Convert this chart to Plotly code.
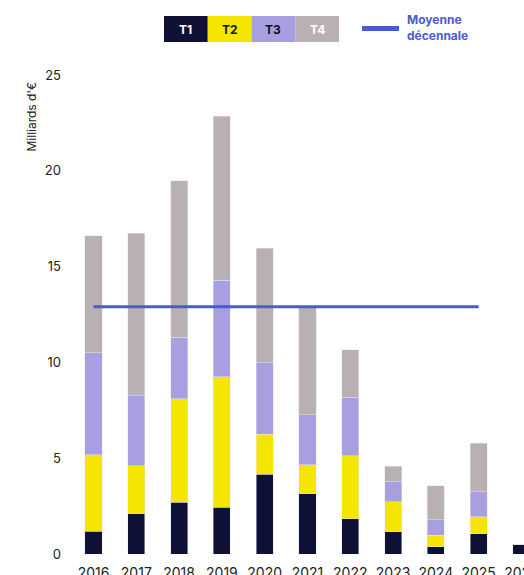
import plotly.graph_objects as go

# Quarterly amounts (billions of euros), stacked per year
years = [2016, 2017, 2018, 2019, 2020, 2021, 2022, 2023, 2024, 2025, 2026]
t1 = [1.2, 2.1, 2.7, 2.45, 4.17, 3.15, 1.85, 1.15, 0.37, 1.05, 0.52]
t2 = [3.97, 2.5, 5.4, 6.79, 2.09, 1.5, 3.28, 1.58, 0.61, 0.9, 0]
t3 = [5.33, 3.65, 3.2, 5.06, 3.71, 2.62, 3.05, 1.05, 0.81, 1.29, 0]
t4 = [6.1, 8.5, 8.17, 8.56, 6.0, 5.58, 2.47, 0.8, 1.78, 2.54, 0]

quarters = ["T1", "T2", "T3", "T4"]
colors = ["#0e1036", "#f5e600", "#a79fe0", "#b9b0b4"]
label_colors = ["white", "#111111", "#111111", "white"]
mean_color = "#4a5bd4"

y_ticks = [0, 5, 10, 15, 20, 25]

# Ten-year average of annual totals (2016-2025)
totals = [a + b + c + d for a, b, c, d in zip(t1, t2, t3, t4)]
decade = [tot for yr, tot in zip(years, totals) if 2016 <= yr <= 2025]
decade_mean = sum(decade) / len(decade)

W, H = 524, 575
L, R, T, B = 70, 0, 75, 21
PW, PH = W - L - R, H - T - B


def px(x):
    return (x - L) / PW


def py(y):
    return (H - B - y) / PH


fig = go.Figure()
for name, vals, col in zip(quarters, [t1, t2, t3, t4], colors):
    fig.add_trace(go.Bar(
        x=years, y=vals, name=name, marker_color=col,
        marker_line=dict(width=0.6, color="rgba(230,230,235,0.8)"),
        width=0.4, showlegend=False,
    ))

fig.add_trace(go.Scatter(
    x=[2016, 2025], y=[decade_mean, decade_mean], mode="lines",
    line=dict(color=mean_color, width=3), showlegend=False,
))

shapes = []
annotations = []

# Legend: coloured boxes with quarter labels inside
box_x0, box_w = 164, 43.75
for i, (q, col, tc) in enumerate(zip(quarters, colors, label_colors)):
    x0 = box_x0 + i * box_w
    shapes.append(dict(type="rect", xref="paper", yref="paper",
                       x0=px(x0), x1=px(x0 + box_w), y0=py(42), y1=py(16),
                       fillcolor=col, line=dict(width=0), layer="above"))
    annotations.append(dict(x=px(x0 + box_w / 2), y=py(29), xref="paper", yref="paper",
                            text="<b>%s</b>" % q, showarrow=False,
                            font=dict(size=12, color=tc), xanchor="center", yanchor="middle"))

shapes.append(dict(type="line", xref="paper", yref="paper",
                   x0=px(362), x1=px(399), y0=py(28.5), y1=py(28.5),
                   line=dict(color=mean_color, width=5)))
annotations.append(dict(x=px(405), y=py(27.5), xref="paper", yref="paper",
                        text="<b>Moyenne<br>décennale</b>", showarrow=False, align="left",
                        font=dict(size=12, color=mean_color), xanchor="left", yanchor="middle"))

# Y-axis title placed near the top of the axis
annotations.append(dict(x=px(31.5), y=py(117), xref="paper", yref="paper",
                        text="Milliards d'€", showarrow=False, textangle=-90,
                        font=dict(size=12, color="#222222"), xanchor="center", yanchor="middle"))

fig.update_layout(
    width=W, height=H,
    margin=dict(l=L, r=R, t=T, b=B, pad=0, autoexpand=False),
    barmode="stack",
    plot_bgcolor="white", paper_bgcolor="white",
    font=dict(family="Inter, Lato, sans-serif", size=13, color="#222222"),
    shapes=shapes, annotations=annotations,
    xaxis=dict(range=[2015.45, 2026.06], tickmode="array", tickvals=years,
               ticktext=[str(y) for y in years], showgrid=False, zeroline=False,
               showline=False, ticks="", tickfont=dict(size=14), automargin=False,
               ticklabelstandoff=9, ticklabeloverflow="allow"),
    yaxis=dict(range=[0, 25], tickmode="array", tickvals=y_ticks,
               showgrid=False, zeroline=False, showline=False, ticks="",
               tickfont=dict(size=13), ticklabelstandoff=8, automargin=False),
)

fig.write_html("out.html")
